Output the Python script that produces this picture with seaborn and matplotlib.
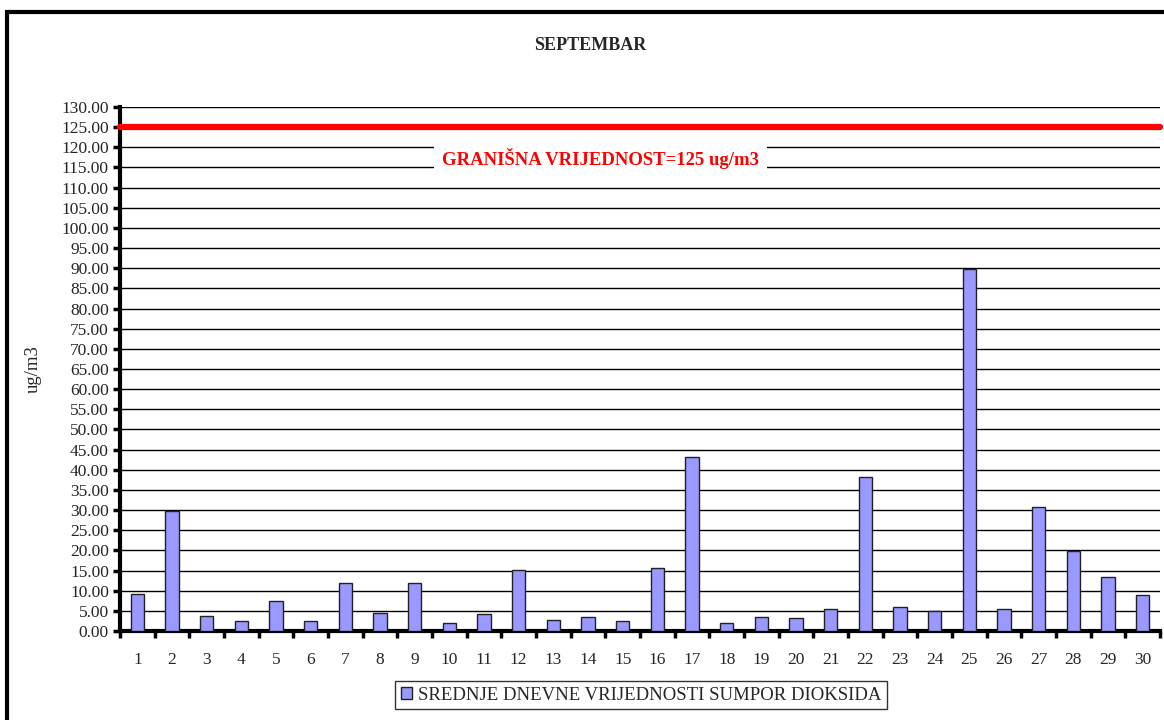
import matplotlib
matplotlib.use("Agg")
import matplotlib.pyplot as plt
from matplotlib.patches import Rectangle
import matplotlib.transforms as mtransforms
import numpy as np
import pandas as pd
import seaborn as sns

days = [str(d) for d in range(1, 31)]
values = [9.3, 29.8, 3.6, 2.4, 7.4, 2.4, 11.9, 4.5, 11.9, 2.1,
          4.1, 15.2, 2.7, 3.5, 2.4, 15.6, 43.1, 2.1, 3.5, 3.2,
          5.4, 38.3, 6.0, 4.9, 89.8, 5.5, 30.8, 19.9, 13.5, 9.0]
limit_value = 125
y_ticks = np.arange(0, 131, 5)
title = "SEPTEMBAR"
series_label = "SREDNJE DNEVNE VRIJEDNOSTI SUMPOR DIOKSIDA"
limit_label = "GRANIŠNA VRIJEDNOST=125 ug/m3"
y_label = "ug/m3"

sns.set_theme(style="white")
plt.rcParams['font.family'] = ['Liberation Serif', 'DejaVu Serif']

fig = plt.figure(figsize=(11.64, 7.2), dpi=100)
ax = fig.add_axes([120/1164, 89/720, 1040/1164, 524/720])

df = pd.DataFrame({"day": days, "value": values})
sns.barplot(data=df, x="day", y="value", ax=ax, color="#9999FF",
            saturation=1, width=0.39, edgecolor="#222222", linewidth=1,
            label=series_label, zorder=3)

ax.set_ylim(0, 130)
ax.set_xlim(-0.5, len(days) - 0.5)
ax.set_yticks(y_ticks)
ax.set_yticklabels([f"{v:.2f}" for v in y_ticks], fontsize=12.5)
ax.yaxis.grid(True, color="#000000", linewidth=1, zorder=0)
ax.set_axisbelow(True)

ax.tick_params(axis="y", which="major", direction="out", length=5, width=2.5,
               color="black", pad=3, left=True)
ax.tick_params(axis="x", which="major", length=0, pad=15, labelsize=12.5)
ax.set_xticks(np.arange(-0.5, len(days), 1), minor=True)
ax.tick_params(axis="x", which="minor", direction="out", length=5, width=2.5,
               color="black", bottom=True)

for s in ["top", "right"]:
    ax.spines[s].set_visible(False)
for s in ["left", "bottom"]:
    ax.spines[s].set_color("black")
    ax.spines[s].set_linewidth(3)

ax.set_xlabel("")
ax.set_ylabel("")

ax.axhline(limit_value, color="#FF0000", linewidth=4.5, zorder=4, clip_on=False)
trans = mtransforms.blended_transform_factory(ax.transAxes, ax.transData)
ax.text(0.462, 117.3, limit_label, transform=trans,
        color="#FF0000", fontsize=13.5, fontweight="bold", ha="center", va="center",
        zorder=5,
        bbox=dict(facecolor="white", edgecolor="none", pad=6))

fig.text(590/1164, 1 - 45/720, title, fontsize=13, fontweight="bold",
         ha="center", va="center")
fig.text(33/1164, 1 - 369/720, y_label, fontsize=13.5, rotation=90,
         ha="center", va="center")

leg = ax.legend(loc="center", bbox_to_anchor=(641/1164, 1 - 695/720),
                bbox_transform=fig.transFigure, frameon=True, fancybox=False,
                prop={"family": "Liberation Serif", "size": 13.5},
                handlelength=0.6, handleheight=0.6,
                handletextpad=0.3, borderpad=0.3, borderaxespad=0)
for t in leg.get_texts():
    t.set_fontfamily(["Liberation Serif", "DejaVu Serif"])
leg.get_frame().set_edgecolor("black")
leg.get_frame().set_linewidth(1)

fig.patches.append(Rectangle((7/1164, -0.1), 1.2, 1 - 12/720 + 0.1,
                             transform=fig.transFigure, fill=False,
                             edgecolor="black", linewidth=3))

fig.savefig("out.png", dpi=100)
